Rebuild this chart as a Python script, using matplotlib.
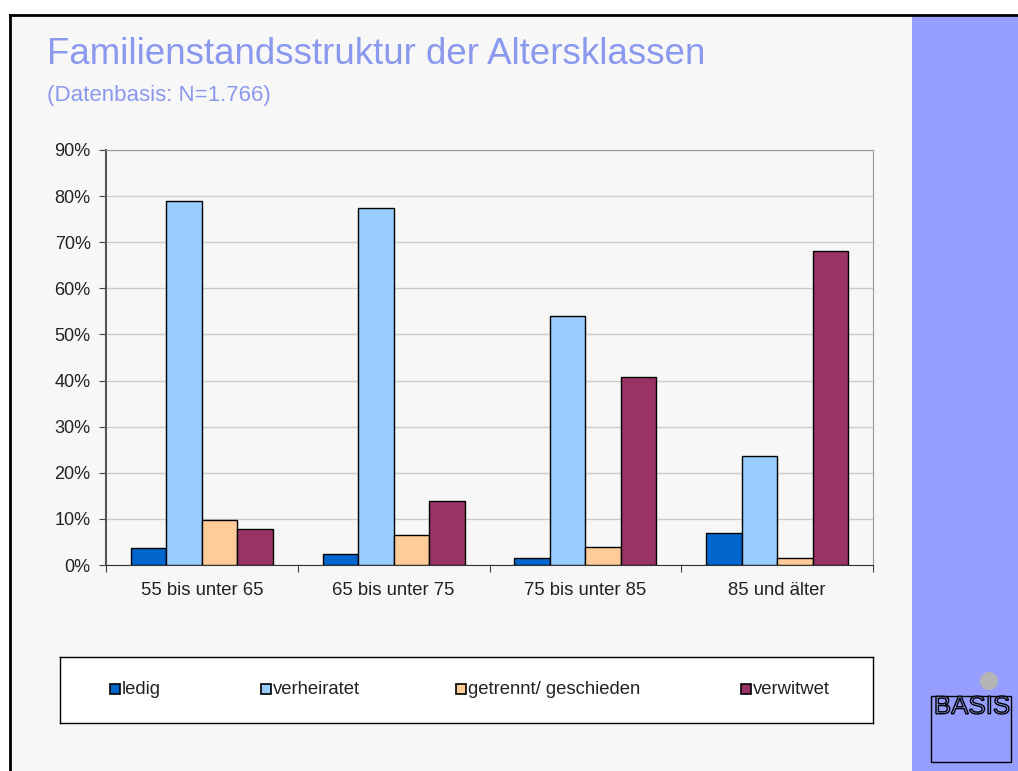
import numpy as np
import matplotlib; matplotlib.use("Agg")
import matplotlib.pyplot as plt
from matplotlib.patches import Rectangle, Ellipse, PathPatch
from matplotlib.lines import Line2D
from matplotlib.textpath import TextPath
from matplotlib.font_manager import FontProperties
from matplotlib.transforms import Affine2D

plt.rcParams['font.family'] = ['Liberation Sans', 'DejaVu Sans']

categories = ["55 bis unter 65", "65 bis unter 75", "75 bis unter 85", "85 und älter"]
series = ["ledig", "verheiratet", "getrennt/ geschieden", "verwitwet"]
ledig = [3.6, 2.3, 1.5, 6.9]
verheiratet = [79.0, 77.4, 53.9, 23.7]
getrennt = [9.7, 6.4, 3.9, 1.6]
verwitwet = [7.8, 13.8, 40.8, 68.1]
colors = ["#0066CC", "#99CCFF", "#FFCC99", "#993366"]

W, H = 1018, 771
fig = plt.figure(figsize=(W / 100, H / 100), dpi=100, facecolor="white")

def fx(px): return px / W
def fy(py): return 1 - py / H

# slide background, border and side panel
fig.patches.append(Rectangle((fx(10), 0), fx(912) - fx(10), fy(15), transform=fig.transFigure,
                             fc="#f7f7f7", ec="none", zorder=-5))
fig.patches.append(Rectangle((fx(912), 0), 1 - fx(912), fy(15), transform=fig.transFigure,
                             fc="#969FFF", ec="none", zorder=-5))
fig.lines.append(Line2D([fx(10), 1], [fy(15), fy(15)], transform=fig.transFigure, color="black", lw=2))
fig.lines.append(Line2D([fx(10), fx(10)], [0, fy(15)], transform=fig.transFigure, color="black", lw=2))

fig.text(fx(47), fy(55), "Familienstandsstruktur der Altersklassen", fontsize=26.4,
         color="#8A98EE", va="center", ha="left")
fig.text(fx(47), fy(96), "(Datenbasis: N=1.766)", fontsize=16, color="#8A98EE",
         va="center", ha="left")

ax = fig.add_axes([fx(106), fy(565), fx(873) - fx(106), fy(150) - fy(565)])
ax.set_facecolor("#f7f7f7")
x = np.arange(len(categories))
bw = 0.185
for i, (vals, c) in enumerate(zip([ledig, verheiratet, getrennt, verwitwet], colors)):
    ax.bar(x + (i - 1.5) * bw, vals, width=bw, color=c, edgecolor="black", lw=1, zorder=3)

ax.set_xlim(-0.5, len(categories) - 0.5)
ax.set_ylim(0, 90)
ax.set_yticks(np.arange(0, 91, 10))
ax.set_yticklabels([f"{v}%" for v in range(0, 91, 10)], fontsize=13, color="#222222")
ax.set_xticks(np.arange(-0.5, len(categories), 1.0))
ax.set_xticklabels([])
ax.set_xticks(x, minor=True)
ax.set_xticklabels(categories, minor=True, fontsize=13.3, color="#222222")
ax.tick_params(axis="x", which="minor", length=0, pad=12)
ax.tick_params(axis="x", which="major", length=5, color="#444444", direction="out")
ax.tick_params(axis="y", length=5, color="#444444", direction="out", pad=6)
ax.grid(axis="y", color="#cccccc", lw=1, zorder=0)
for s in ["top", "right"]:
    ax.spines[s].set_color("#999999")
ax.spines["left"].set_color("#555555")
ax.spines["bottom"].set_color("#333333")
ax.spines["left"].set_linewidth(1.5)

# legend box
lax = fig.add_axes([fx(60), fy(723), fx(873) - fx(60), fy(657) - fy(723)])
lax.set_xlim(0, 1); lax.set_ylim(0, 1)
lax.set_xticks([]); lax.set_yticks([])
lax.set_facecolor("white")
for s in lax.spines.values():
    s.set_color("black"); s.set_linewidth(1)
leg_x = [110, 261, 456, 741]
for lx, lab, c in zip(leg_x, series, colors):
    fig.patches.append(Rectangle((fx(lx), fy(694)), 10 / W, 10 / H, transform=fig.transFigure,
                                 fc=c, ec="black", lw=1.2, zorder=5))
    fig.text(fx(lx + 12), fy(690), lab, fontsize=13.3, color="#222222", va="center", ha="left", zorder=5)

# logo
fig.patches.append(Ellipse((fx(989), fy(681)), 18 / W, 18 / H, transform=fig.transFigure,
                           fc="#b5b5b5", ec="none", zorder=5))
fig.patches.append(Rectangle((fx(931), fy(762)), 80 / W, 66 / H, transform=fig.transFigure,
                             fc="#969FFF", ec="black", lw=1, zorder=5))
tp = TextPath((0, 0), "BASIS", size=10, prop=FontProperties(family="Liberation Sans"))
bb = tp.get_extents()
tr = (Affine2D().translate(-bb.x0, -bb.y0)
      .scale(73 / bb.width, 18 / bb.height).translate(936, H - 714))
fig.patches.append(PathPatch(tr.transform_path(tp), transform=None,
                             fc="#969FFF", ec="black", lw=1, zorder=6))

fig.savefig("out.png", dpi=100, facecolor="white")
